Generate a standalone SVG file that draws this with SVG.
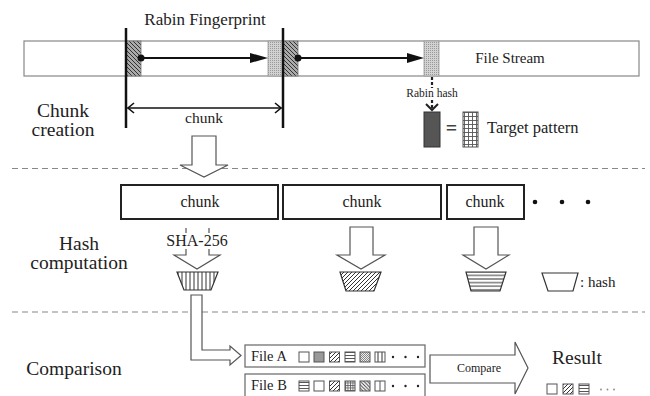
<svg xmlns="http://www.w3.org/2000/svg" width="650" height="396" viewBox="0 0 650 396" font-family="'Liberation Serif', 'Times New Roman', 'DejaVu Serif', serif">
  <style>
    text { fill: #222; }
    .sec { font-size: 19.5px; text-anchor: middle; }
    .lbl { font-size: 16px; text-anchor: middle; }
    .box { fill: #fff; stroke: #222; stroke-width: 2; }
    .hollow { fill: #fff; stroke: #555; stroke-width: 1.2; stroke-linejoin: miter; }
    .dash { stroke: #888; stroke-width: 1.2; stroke-dasharray: 6 4; fill: none; }
    .sq { stroke: #555; stroke-width: 1; }
    .trap { stroke: #333; stroke-width: 1.2; }
  </style>
  <defs>
    <pattern id="hatchBack" width="4" height="4" patternUnits="userSpaceOnUse">
      <rect width="4" height="4" fill="#aaa"/>
      <path d="M0,0 L4,4 M-1,3 L1,5 M3,-1 L5,1" stroke="#333" stroke-width="1"/>
    </pattern>
    <pattern id="stipple" width="2" height="2" patternUnits="userSpaceOnUse">
      <rect width="2" height="2" fill="#d2d2d2"/>
      <rect width="1" height="1" fill="#999"/>
    </pattern>
    <pattern id="diag" width="4" height="4" patternUnits="userSpaceOnUse">
      <rect width="4" height="4" fill="#fff"/>
      <path d="M0,4 L4,0 M-1,1 L1,-1 M3,5 L5,3" stroke="#333" stroke-width="1"/>
    </pattern>
    <pattern id="diagBack" width="3.5" height="3.5" patternUnits="userSpaceOnUse">
      <rect width="3.5" height="3.5" fill="#fff"/>
      <path d="M0,0 L3.5,3.5 M-1,2.5 L1,4.5 M2.5,-1 L4.5,1" stroke="#333" stroke-width="0.9"/>
    </pattern>
    <pattern id="vlines" width="4" height="4" patternUnits="userSpaceOnUse">
      <rect width="4" height="4" fill="#fff"/>
      <path d="M2,0 V4" stroke="#333" stroke-width="1"/>
    </pattern>
    <pattern id="hlines" width="3" height="3" patternUnits="userSpaceOnUse">
      <rect width="3" height="3" fill="#fff"/>
      <path d="M0,1.5 H3" stroke="#444" stroke-width="0.9"/>
    </pattern>
    <pattern id="hlinesWide" width="4" height="3.6" patternUnits="userSpaceOnUse">
      <rect width="4" height="3.6" fill="#fff"/>
      <path d="M0,1.8 H4" stroke="#333" stroke-width="1"/>
    </pattern>
    <pattern id="grid" width="2.5" height="2.5" patternUnits="userSpaceOnUse">
      <rect width="2.5" height="2.5" fill="#fff"/>
      <path d="M0,0.5 H2.5 M0.5,0 V2.5" stroke="#555" stroke-width="0.8"/>
    </pattern>
    <pattern id="gridTarget" width="4" height="4" patternUnits="userSpaceOnUse">
      <rect width="4" height="4" fill="#fff"/>
      <path d="M0,0.5 H4 M0.5,0 V4" stroke="#555" stroke-width="0.9"/>
    </pattern>
    <pattern id="checks" width="2" height="2" patternUnits="userSpaceOnUse">
      <rect width="2" height="2" fill="#eee"/>
      <rect width="1" height="1" fill="#888"/>
      <rect x="1" y="1" width="1" height="1" fill="#888"/>
    </pattern>
  </defs>

  <!-- section separators -->
  <line class="dash" x1="12" y1="168.5" x2="645" y2="168.5"/>
  <line class="dash" x1="12" y1="312" x2="645" y2="312"/>

  <!-- section labels -->
  <text class="sec" x="63" y="117">Chunk</text>
  <text class="sec" x="63" y="136">creation</text>
  <text class="sec" x="79" y="250">Hash</text>
  <text class="sec" x="79" y="269">computation</text>
  <text class="sec" x="74" y="375">Comparison</text>

  <!-- file stream with sliding windows -->
  <g id="file-stream">
    <rect x="24" y="41" width="615" height="35" fill="#fff" stroke="#888" stroke-width="1.2"/>
    <rect x="126" y="41" width="15" height="35" fill="url(#hatchBack)" stroke="#777" stroke-width="0.8"/>
    <rect x="268" y="41" width="15" height="35" fill="url(#stipple)" stroke="#999" stroke-width="0.8"/>
    <rect x="283" y="41" width="15" height="35" fill="url(#hatchBack)" stroke="#777" stroke-width="0.8"/>
    <rect x="424" y="41" width="15" height="35" fill="url(#stipple)" stroke="#999" stroke-width="0.8"/>
    <text x="510" y="63" style="font-size:15px;text-anchor:middle">File Stream</text>
  </g>

  <g id="fingerprint">
    <text x="205" y="25" style="font-size:17px;text-anchor:middle">Rabin Fingerprint</text>
    <line x1="126" y1="28" x2="126" y2="128" stroke="#111" stroke-width="2.5"/>
    <line x1="283" y1="28" x2="283" y2="128" stroke="#111" stroke-width="2.5"/>
    <text x="204" y="123" style="font-size:15.5px;text-anchor:middle">chunk</text>
  </g>

  <g id="target">
    <text x="432" y="97" style="font-size:11.5px;text-anchor:middle">Rabin hash</text>
    <rect x="424" y="112" width="16" height="35" fill="#555" stroke="#333" stroke-width="1"/>
    <text x="451.5" y="135" style="font-size:20px;font-weight:bold;text-anchor:middle;fill:#444">=</text>
    <rect x="463" y="112" width="15" height="35" fill="url(#gridTarget)" stroke="#555" stroke-width="1"/>
    <text x="487" y="133" style="font-size:16.5px">Target pattern</text>
  </g>

  <!-- chunk boxes -->
  <g id="chunk-1">
    <rect class="box" x="121" y="185" width="157" height="34"/>
    <text class="lbl" x="200" y="207">chunk</text>
  </g>
  <g id="chunk-2">
    <rect class="box" x="283" y="185" width="158" height="34"/>
    <text class="lbl" x="362" y="207">chunk</text>
  </g>
  <g id="chunk-3">
    <rect class="box" x="447" y="185" width="77" height="34"/>
    <text class="lbl" x="485" y="207">chunk</text>
  </g>
  <g id="more">
    <circle cx="535" cy="202" r="2.3" fill="#111"/>
    <circle cx="562" cy="202" r="2.3" fill="#111"/>
    <circle cx="588" cy="202" r="2.3" fill="#111"/>
  </g>

  <!-- hash values -->
  <g id="hash-1">
    <polygon class="trap" points="177,272 218,272 211,290 184,290" fill="url(#vlines)"/>
  </g>
  <g id="hash-2">
    <polygon class="trap" points="340,272 381,272 374,291 346,291" fill="url(#diag)"/>
  </g>
  <g id="hash-3">
    <polygon class="trap" points="466,272 506,272 500,291 471,291" fill="url(#hlinesWide)"/>
  </g>
  <g id="hash-legend">
    <polygon class="trap" points="542,273 578,273 573,291 548,291" fill="#fff"/>
    <text x="580" y="287" style="font-size:15px">: hash</text>
  </g>

  <!-- file lists -->
  <g id="file-a">
    <rect x="245" y="345" width="180" height="22" fill="#fff" stroke="#666" stroke-width="1.2"/>
    <text x="251" y="361" style="font-size:14.5px">File A</text>
    <rect class="sq" x="299" y="352" width="10" height="10" fill="#fff"/>
    <rect class="sq" x="314" y="352" width="10" height="10" fill="#999"/>
    <rect class="sq" x="329.5" y="352" width="10" height="10" fill="url(#diag)"/>
    <rect class="sq" x="345" y="352" width="10" height="10" fill="url(#hlines)"/>
    <rect class="sq" x="360" y="352" width="10" height="10" fill="url(#checks)"/>
    <rect class="sq" x="375" y="352" width="10" height="10" fill="url(#vlines)"/>
    <circle cx="393" cy="357" r="1.2" fill="#222"/>
    <circle cx="405.5" cy="357" r="1.2" fill="#222"/>
    <circle cx="418" cy="357" r="1.2" fill="#222"/>
  </g>
  <g id="file-b">
    <rect x="245" y="374" width="180" height="30" fill="#fff" stroke="#666" stroke-width="1.2"/>
    <text x="251" y="390" style="font-size:14.5px">File B</text>
    <rect class="sq" x="299" y="381" width="10" height="10" fill="url(#hlines)"/>
    <rect class="sq" x="314" y="381" width="10" height="10" fill="#fff"/>
    <rect class="sq" x="329.5" y="381" width="10" height="10" fill="url(#diag)"/>
    <rect class="sq" x="345" y="381" width="10" height="10" fill="url(#grid)"/>
    <rect class="sq" x="360" y="381" width="10" height="10" fill="url(#diagBack)"/>
    <rect class="sq" x="375" y="381" width="10" height="10" fill="#fff"/>
    <line x1="380" y1="381" x2="380" y2="391" stroke="#555" stroke-width="1"/>
    <circle cx="393" cy="386" r="1.2" fill="#222"/>
    <circle cx="405.5" cy="386" r="1.2" fill="#222"/>
    <circle cx="418" cy="386" r="1.2" fill="#222"/>
  </g>

  <g id="result">
    <text x="552" y="364" style="font-size:19.5px">Result</text>
    <rect class="sq" x="547" y="384" width="10" height="10" fill="#fff"/>
    <rect class="sq" x="563" y="384" width="10" height="10" fill="url(#diag)"/>
    <rect class="sq" x="579" y="384" width="10" height="10" fill="url(#hlines)"/>
    <circle cx="601" cy="389.5" r="0.9" fill="#888"/>
    <circle cx="607.5" cy="389.5" r="0.9" fill="#888"/>
    <circle cx="614" cy="389.5" r="0.9" fill="#888"/>
  </g>

  <!-- connectors -->
  <g id="connectors">
    <!-- fingerprint window sliding -->
    <line x1="141" y1="58" x2="252" y2="58" stroke="#111" stroke-width="2"/>
    <polygon points="250,53 268,58 250,63" fill="#111"/>
    <circle cx="141" cy="58" r="3.5" fill="#111"/>
    <line x1="298" y1="58" x2="409" y2="58" stroke="#111" stroke-width="2"/>
    <polygon points="407,53 424,58 407,63" fill="#111"/>
    <circle cx="298" cy="58" r="3.5" fill="#111"/>

    <!-- chunk extent -->
    <line x1="127.5" y1="108" x2="281.5" y2="108" stroke="#111" stroke-width="1.6"/>
    <path d="M134,103 L128,108 L134,113 M275,103 L281,108 L275,113" fill="none" stroke="#111" stroke-width="1.6"/>

    <!-- rabin hash check -->
    <line x1="432" y1="77" x2="432" y2="88" stroke="#222" stroke-width="2.2" stroke-dasharray="3 2"/>
    <line x1="432" y1="100" x2="432" y2="110" stroke="#222" stroke-width="2.2" stroke-dasharray="3 2"/>
    <path d="M426,104 L432,110 L438,104" fill="none" stroke="#222" stroke-width="2"/>

    <!-- chunk split into boxes -->
    <polygon class="hollow" points="192,136 216,136 216,165 228,165 204,177 180,165 192,165"/>

    <!-- hash computation arrows -->
    <path class="hollow" d="M186,228 V233 M209,228 V233 M186,249 V255 H174 L197,269 L220,255 H209 V249" fill="none"/>
    <text x="197" y="246" style="font-size:16px;text-anchor:middle">SHA-256</text>
    <polygon class="hollow" points="350,227 373,227 373,255 385,255 361,269 337,255 350,255"/>
    <polygon class="hollow" points="474,227 498,227 498,255 509,255 486,269 463,255 474,255"/>

    <!-- hash into file list -->
    <polygon class="hollow" points="191,295 202,295 202,350 230,350 230,346 241,355.5 230,365 230,360 191,360"/>

    <!-- compare -->
    <polygon class="hollow" points="430,355 515,355 515,342 528,368 515,394 515,383 430,383"/>
    <text x="479" y="372" style="font-size:12px;text-anchor:middle">Compare</text>
  </g>
</svg>
